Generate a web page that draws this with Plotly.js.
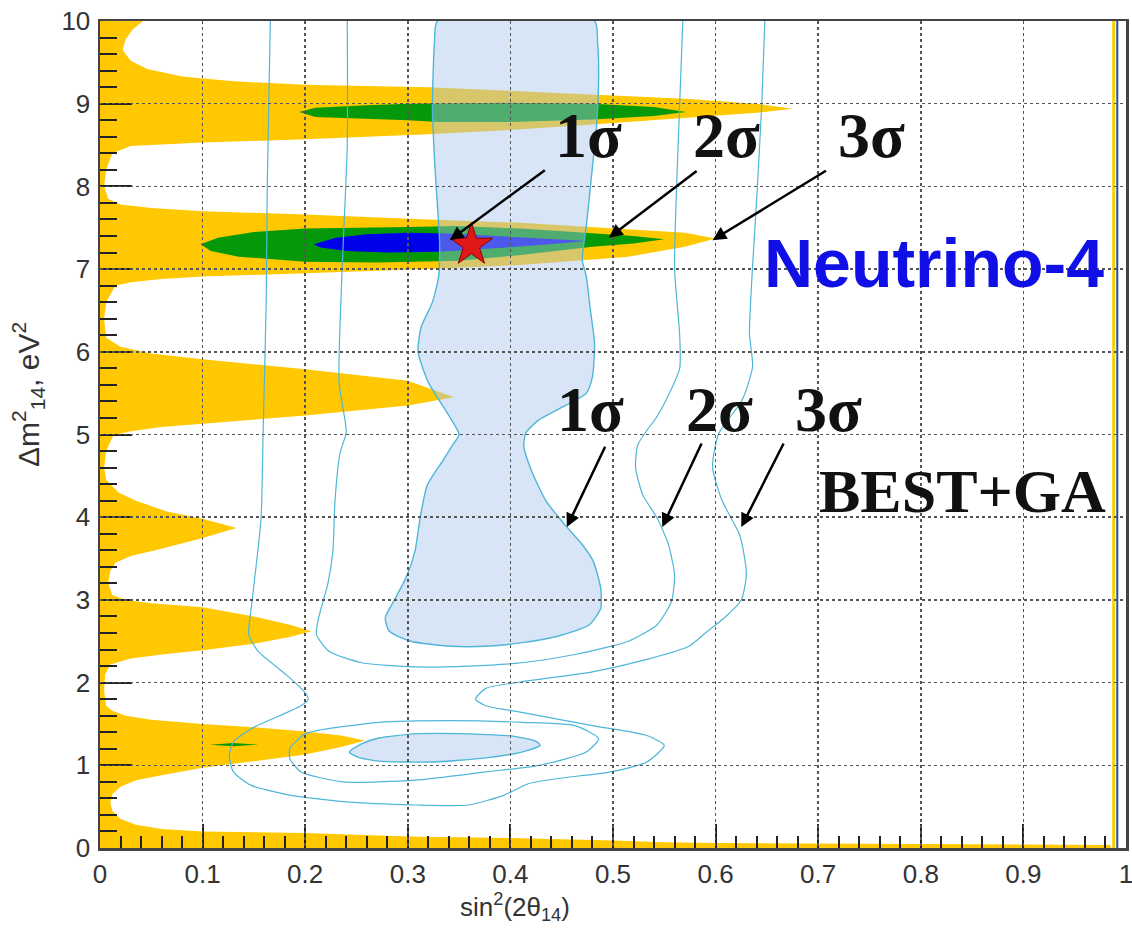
<!DOCTYPE html>
<html>
<head>
<meta charset="utf-8">
<script src="https://cdn.plot.ly/plotly-3.0.1.min.js"></script>
<style>html,body{margin:0;padding:0;background:#fff;}#chart{width:1132px;height:928px;}</style>
</head>
<body>
<div id="chart"></div>
<script>
// ---------- Neutrino-4 3 sigma (yellow) region, boundary vertices ----------
const yellowX = [0, 0.985, 0.985, 0.8, 0.6, 0.55, 0.5, 0.4, 0.3, 0.2, 0.1, 0.06, 0.035, 0.02, 0.012, 0.01, 0.012, 0.02, 0.035, 0.06,
  0.1, 0.15, 0.2, 0.235, 0.258, 0.235, 0.2, 0.15, 0.1, 0.05, 0.025, 0.012, 0.006, 0.004, 0.005, 0.01, 0.03, 0.06, 0.1, 0.15,
  0.185, 0.206, 0.185, 0.15, 0.1, 0.05, 0.025, 0.012, 0.008, 0.01, 0.015, 0.03, 0.06, 0.1, 0.133, 0.1, 0.065, 0.035, 0.018, 0.006,
  0.004, 0.006, 0.013, 0.03, 0.06, 0.1, 0.2, 0.3, 0.345, 0.3, 0.2, 0.1, 0.05, 0.02, 0.006, 0.004, 0.006, 0.015, 0.03, 0.06,
  0.1, 0.2, 0.32, 0.41, 0.515, 0.57, 0.6, 0.57, 0.515, 0.41, 0.32, 0.2, 0.1, 0.05, 0.02, 0.008, 0.004, 0.006, 0.012, 0.03,
  0.1, 0.2, 0.32, 0.41, 0.48, 0.57, 0.64, 0.675, 0.64, 0.57, 0.48, 0.41, 0.32, 0.2, 0.13, 0.08, 0.046, 0.03, 0.022, 0.025,
  0.032, 0.042, 0];
const yellowY = [0, 0, 0.035, 0.045, 0.06, 0.07, 0.09, 0.12, 0.14, 0.18, 0.2, 0.23, 0.28, 0.35, 0.45, 0.55, 0.65, 0.74, 0.82, 0.88,
  0.97, 1.05, 1.13, 1.22, 1.3, 1.36, 1.41, 1.46, 1.5, 1.55, 1.6, 1.66, 1.72, 1.9, 2.1, 2.22, 2.29, 2.34, 2.39, 2.47,
  2.55, 2.62, 2.7, 2.8, 2.91, 2.96, 3.0, 3.06, 3.2, 3.35, 3.45, 3.53, 3.62, 3.75, 3.87, 3.98, 4.07, 4.2, 4.3, 4.45,
  4.6, 4.8, 4.99, 5.04, 5.09, 5.13, 5.23, 5.35, 5.45, 5.65, 5.79, 5.91, 5.98, 6.06, 6.17, 6.4, 6.6, 6.8, 6.84, 6.88,
  6.91, 6.95, 7.0, 7.05, 7.15, 7.27, 7.37, 7.44, 7.48, 7.56, 7.6, 7.66, 7.7, 7.74, 7.78, 7.85, 8.0, 8.2, 8.4, 8.49,
  8.53, 8.57, 8.63, 8.69, 8.75, 8.83, 8.89, 8.94, 9.0, 9.06, 9.11, 9.15, 9.2, 9.23, 9.27, 9.33, 9.42, 9.52, 9.65, 9.78,
  9.9, 10, 10];
// right-edge contour strips
const edgeStripX = [0.988, 0.988];
const edgeStripY = [0, 10];
const edgeBlueX = [0.9915, 0.9915];
const edgeBlueY = [0, 10];

// ---------- Neutrino-4 2 sigma (green) regions ----------
const green9X = [0.194, 0.21, 0.26, 0.3, 0.4, 0.48, 0.54, 0.571, 0.54, 0.48, 0.4, 0.33, 0.3, 0.26, 0.21, 0.194];
const green9Y = [8.9, 8.95, 8.98, 9.0, 9.01, 9.0, 8.96, 8.9, 8.85, 8.81, 8.78, 8.78, 8.8, 8.82, 8.84, 8.9];
const green7X = [0.098, 0.115, 0.15, 0.2, 0.3, 0.35, 0.41, 0.48, 0.52, 0.55, 0.52, 0.48, 0.41, 0.35, 0.27, 0.2, 0.135, 0.108, 0.098];
const green7Y = [7.3, 7.38, 7.45, 7.49, 7.51, 7.52, 7.49, 7.43, 7.4, 7.36, 7.31, 7.27, 7.17, 7.1, 7.08, 7.09, 7.15, 7.22, 7.3];
const green1X = [0.107, 0.13, 0.154, 0.13, 0.107];
const green1Y = [1.25, 1.27, 1.25, 1.23, 1.25];

// ---------- Neutrino-4 1 sigma (blue) region ----------
const blue7X = [0.208, 0.23, 0.26, 0.3, 0.34, 0.38, 0.43, 0.474, 0.43, 0.38, 0.33, 0.28, 0.24, 0.215, 0.208];
const blue7Y = [7.3, 7.38, 7.42, 7.44, 7.43, 7.4, 7.37, 7.34, 7.29, 7.25, 7.21, 7.2, 7.22, 7.26, 7.3];

// ---------- best fit point ----------
const bestFitX = [0.362];
const bestFitY = [7.29];

// ---------- BEST+GA contours ----------
const best1X = [0.329, 0.326, 0.324, 0.327, 0.331, 0.33, 0.324, 0.313, 0.31, 0.32, 0.34, 0.35, 0.344, 0.335, 0.319, 0.312, 0.307, 0.298, 0.286, 0.278,
  0.282, 0.303, 0.342, 0.376, 0.41, 0.446, 0.477, 0.488, 0.488, 0.481, 0.47, 0.453, 0.435, 0.421, 0.413, 0.415, 0.42, 0.428, 0.446, 0.474,
  0.48, 0.482, 0.478, 0.474, 0.47, 0.474, 0.479, 0.484, 0.486, 0.485, 0.482, 0.329];
const best1Y = [10, 9.74, 8.93, 8.12, 7.32, 6.91, 6.6, 6.3, 6.0, 5.63, 5.23, 5.0, 4.88, 4.7, 4.39, 3.99, 3.59, 3.26, 2.98, 2.78,
  2.62, 2.5, 2.44, 2.44, 2.48, 2.56, 2.7, 2.9, 3.14, 3.46, 3.67, 3.91, 4.19, 4.55, 4.86, 5.02, 5.09, 5.18, 5.3, 5.5,
  5.7, 6.1, 6.5, 6.91, 7.11, 7.52, 8.12, 8.73, 9.34, 9.74, 10, 10];
const best1IslandX = [0.243, 0.255, 0.272, 0.307, 0.359, 0.404, 0.425, 0.429, 0.411, 0.376, 0.324, 0.272, 0.251, 0.243];
const best1IslandY = [1.16, 1.26, 1.33, 1.38, 1.38, 1.35, 1.29, 1.24, 1.16, 1.09, 1.04, 1.05, 1.1, 1.16];
const best2X = [0.241, 0.241, 0.236, 0.233, 0.24, 0.234, 0.229, 0.227, 0.222, 0.213, 0.211, 0.223, 0.255, 0.307, 0.359, 0.411, 0.463, 0.515, 0.543,
  0.557, 0.56, 0.554, 0.543, 0.529, 0.522, 0.524, 0.533, 0.542, 0.555, 0.565, 0.565, 0.56, 0.562, 0.565, 0.568];
const best2Y = [10, 8.5, 7.0, 5.63, 5.03, 4.78, 4.19, 3.59, 3.19, 2.78, 2.58, 2.38, 2.24, 2.19, 2.2, 2.24, 2.34, 2.5, 2.7,
  2.98, 3.3, 3.67, 3.99, 4.27, 4.6, 4.87, 5.05, 5.2, 5.5, 5.8, 6.2, 7.0, 8.0, 9.0, 10];
const best2LoopX = [0.185, 0.2, 0.272, 0.342, 0.411, 0.463, 0.486, 0.474, 0.428, 0.376, 0.307, 0.237, 0.196, 0.185, 0.185];
const best2LoopY = [1.2, 1.38, 1.52, 1.54, 1.52, 1.48, 1.32, 1.16, 1.0, 0.92, 0.82, 0.8, 0.92, 1.08, 1.2];
const best3X = [0.166, 0.163, 0.162, 0.159, 0.157, 0.152, 0.147, 0.145, 0.154, 0.182, 0.199, 0.203, 0.196, 0.175, 0.147, 0.13, 0.126, 0.13, 0.147, 0.185,
  0.237, 0.307, 0.359, 0.394, 0.418, 0.446, 0.498, 0.533, 0.55, 0.533, 0.48, 0.411, 0.376, 0.366, 0.376, 0.411, 0.48, 0.533, 0.574, 0.59,
  0.61, 0.625, 0.63, 0.627, 0.623, 0.606, 0.597, 0.603, 0.626, 0.636, 0.633, 0.636, 0.64, 0.645, 0.648];
const best3Y = [10, 8.0, 6.6, 5.03, 3.99, 3.39, 2.86, 2.58, 2.38, 2.09, 1.89, 1.8, 1.72, 1.6, 1.44, 1.28, 1.12, 0.92, 0.76, 0.64,
  0.56, 0.52, 0.52, 0.64, 0.78, 0.84, 0.92, 1.04, 1.24, 1.36, 1.48, 1.64, 1.72, 1.8, 1.93, 2.01, 2.13, 2.28, 2.44, 2.6,
  2.8, 3.0, 3.3, 3.6, 3.8, 4.21, 4.61, 5.01, 5.42, 5.82, 6.22, 7.03, 7.84, 9.0, 10];

// ---------- text labels ----------
const sigmaLabels = ['1σ', '2σ', '3σ'];
const upperLabelX = [0.476, 0.611, 0.752];
const upperLabelY = 8.62;
const lowerLabelX = [0.478, 0.604, 0.71];
const lowerLabelY = 5.3;
const upperArrowTailX = [0.435, 0.583, 0.709];
const upperArrowTailY = [8.21, 8.2, 8.2];
const upperArrowHeadX = [0.341, 0.496, 0.597];
const upperArrowHeadY = [7.35, 7.38, 7.35];
const lowerArrowTailX = [0.493, 0.587, 0.667];
const lowerArrowTailY = [4.87, 4.91, 4.91];
const lowerArrowHeadX = [0.455, 0.548, 0.625];
const lowerArrowHeadY = [3.88, 3.88, 3.88];
const xTickVals = [0, 0.1, 0.2, 0.3, 0.4, 0.5, 0.6, 0.7, 0.8, 0.9, 1];
const xTickText = ['0', '0.1', '0.2', '0.3', '0.4', '0.5', '0.6', '0.7', '0.8', '0.9', '1'];
const yTickVals = [0, 1, 2, 3, 4, 5, 6, 7, 8, 9, 10];
const yTickText = ['0', '1', '2', '3', '4', '5', '6', '7', '8', '9', '10'];

const YELLOW = '#ffc800', GREEN = '#05990a', BLUE = '#0000ea';
const BESTFILL = 'rgba(168,198,235,0.45)', BESTLINE = '#4fb6d8';

function region(x, y, color) {
  return {x: x, y: y, type: 'scatter', mode: 'lines', fill: 'toself', fillcolor: color,
    line: {width: 0, color: color}, hoverinfo: 'skip', showlegend: false};
}
function contour(x, y, w, fill) {
  const t = {x: x, y: y, type: 'scatter', mode: 'lines', line: {color: BESTLINE, width: w, shape: 'spline', smoothing: 0.6},
    hoverinfo: 'skip', showlegend: false};
  if (fill) { t.fill = 'toself'; t.fillcolor = fill; }
  return t;
}

const traces = [
  region(yellowX, yellowY, YELLOW),
  {x: edgeStripX, y: edgeStripY, type: 'scatter', mode: 'lines', line: {color: '#f2d200', width: 3}, hoverinfo: 'skip', showlegend: false},
  {x: edgeBlueX, y: edgeBlueY, type: 'scatter', mode: 'lines', line: {color: '#2f4c9e', width: 2}, hoverinfo: 'skip', showlegend: false},
  region(green9X, green9Y, GREEN),
  region(green7X, green7Y, GREEN),
  region(green1X, green1Y, GREEN),
  region(blue7X, blue7Y, BLUE),
  contour(best1X, best1Y, 1.4, BESTFILL),
  contour(best1IslandX, best1IslandY, 1.4, BESTFILL),
  contour(best2X, best2Y, 1.2),
  contour(best2LoopX, best2LoopY, 1.2),
  contour(best3X, best3Y, 1.2),
  {x: bestFitX, y: bestFitY, type: 'scatter', mode: 'markers',
    marker: {symbol: 'star', size: 32, color: '#e01818', line: {color: '#8b0000', width: 1}}, hoverinfo: 'skip', showlegend: false},
  {x: [], y: [], type: 'scatter', mode: 'markers', xaxis: 'x2', yaxis: 'y2', hoverinfo: 'skip', showlegend: false}
];

const annotations = [];
const sigFont = {family: 'Liberation Serif, Times New Roman, serif', size: 64, color: '#111'};
for (let i = 0; i < 3; i++) {
  annotations.push({x: upperLabelX[i], y: upperLabelY, xref: 'x', yref: 'y', text: '<b>' + sigmaLabels[i] + '</b>',
    showarrow: false, font: sigFont, xanchor: 'center', yanchor: 'middle'});
  annotations.push({x: lowerLabelX[i], y: lowerLabelY, xref: 'x', yref: 'y', text: '<b>' + sigmaLabels[i] + '</b>',
    showarrow: false, font: sigFont, xanchor: 'center', yanchor: 'middle'});
  annotations.push({x: upperArrowHeadX[i], y: upperArrowHeadY[i], ax: upperArrowTailX[i], ay: upperArrowTailY[i],
    xref: 'x', yref: 'y', axref: 'x', ayref: 'y', text: '', showarrow: true, arrowhead: 2, arrowsize: 1.1, arrowwidth: 2.5, arrowcolor: '#000'});
  annotations.push({x: lowerArrowHeadX[i], y: lowerArrowHeadY[i], ax: lowerArrowTailX[i], ay: lowerArrowTailY[i],
    xref: 'x', yref: 'y', axref: 'x', ayref: 'y', text: '', showarrow: true, arrowhead: 2, arrowsize: 1.1, arrowwidth: 2.5, arrowcolor: '#000'});
}
annotations.push({x: 0.813, y: 7.07, xref: 'x', yref: 'y', text: '<b>Neutrino-4</b>', showarrow: false,
  font: {family: 'Liberation Sans, Arial, sans-serif', size: 68, color: '#1010e6'}, xanchor: 'center', yanchor: 'middle'});
annotations.push({x: 0.841, y: 4.32, xref: 'x', yref: 'y', text: '<b>BEST+GA</b>', showarrow: false,
  font: {family: 'Liberation Serif, Times New Roman, serif', size: 62, color: '#111'}, xanchor: 'center', yanchor: 'middle'});
annotations.push({x: 0.4045, y: -0.071, xref: 'paper', yref: 'paper', text: 'sin<sup>2</sup>(2θ<sub>14</sub>)', showarrow: false,
  font: {family: 'Liberation Sans, Arial, sans-serif', size: 26, color: '#333'}, xanchor: 'center', yanchor: 'middle'});
annotations.push({x: -0.07, y: 0.548, xref: 'paper', yref: 'paper', text: 'Δm<sup>2</sup><sub>14</sub>, eV<sup>2</sup>', showarrow: false,
  textangle: -90, font: {family: 'Liberation Sans, Arial, sans-serif', size: 30, color: '#333'}, xanchor: 'center', yanchor: 'middle'});

const tickFont = {family: 'Liberation Sans, Arial, sans-serif', size: 26, color: '#333'};
const layout = {
  width: 1132, height: 928,
  margin: {l: 100, r: 6, t: 21, b: 80},
  paper_bgcolor: '#fff', plot_bgcolor: 'rgba(0,0,0,0)',
  showlegend: false, hovermode: false,
  xaxis: {range: [0, 1], domain: [0, 1], anchor: 'y', tickvals: xTickVals, ticktext: xTickText, tickfont: tickFont,
    ticks: 'inside', ticklen: 24, tickwidth: 2, tickcolor: '#222', ticklabeloverflow: 'allow',
    minor: {ticks: 'inside', ticklen: 12, tickwidth: 2, tickcolor: '#222', dtick: 0.02, tick0: 0, showgrid: false},
    showgrid: false, zeroline: false, showline: true, mirror: true, linecolor: '#444', linewidth: 2.5,
    layer: 'above traces', ticklabelstandoff: 1, fixedrange: true},
  yaxis: {range: [0, 10], domain: [0, 1], anchor: 'x', tickvals: yTickVals, ticktext: yTickText, tickfont: tickFont,
    ticks: 'inside', ticklen: 32, tickwidth: 2, tickcolor: '#222', ticklabeloverflow: 'allow',
    minor: {ticks: 'inside', ticklen: 17, tickwidth: 2, tickcolor: '#222', dtick: 0.2, tick0: 0, showgrid: false},
    showgrid: false, zeroline: false, showline: true, mirror: true, linecolor: '#444', linewidth: 2.5,
    layer: 'above traces', ticklabelstandoff: 2, fixedrange: true},
  xaxis2: {range: [0, 1], domain: [0, 1], anchor: 'y2', dtick: 0.1, tick0: 0, showgrid: true, gridcolor: '#555', gridwidth: 1.5,
    griddash: 'dot', showticklabels: false, ticks: '', zeroline: false, showline: false, fixedrange: true},
  yaxis2: {range: [0, 10], domain: [0, 1], anchor: 'x2', dtick: 1, tick0: 0, showgrid: true, gridcolor: '#555', gridwidth: 1.5,
    griddash: 'dot', showticklabels: false, ticks: '', zeroline: false, showline: false, fixedrange: true},
  annotations: annotations
};
Plotly.newPlot('chart', traces, layout, {staticPlot: true, displayModeBar: false});
</script>
</body>
</html>
